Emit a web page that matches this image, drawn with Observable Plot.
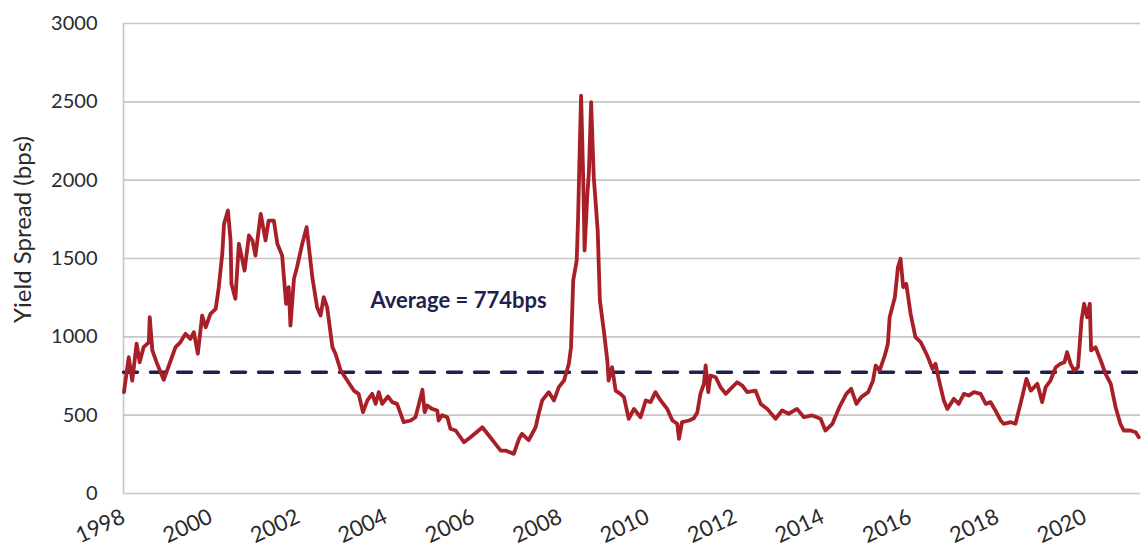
<!DOCTYPE html>
<html>
<head>
<meta charset="utf-8">
<script src="https://cdn.jsdelivr.net/npm/d3@7"></script>
<script src="https://cdn.jsdelivr.net/npm/@observablehq/plot@0.6"></script>
<style>
  html, body { margin: 0; padding: 0; background: #fff; }
  #chart { width: 1146px; height: 556px; }
</style>
</head>
<body>
<div id="chart"></div>
<script>
// Decimal years (x) and yield spread in bps (y)
const years = [
  1998.01,1998.12,1998.20,1998.30,1998.37,1998.46,1998.58,1998.60,1998.66,1998.77,1998.92,
  1999.08,1999.19,1999.30,1999.42,1999.53,1999.61,1999.70,1999.80,1999.88,1999.99,
  2000.11,2000.18,2000.26,2000.30,2000.39,2000.45,2000.47,2000.56,2000.64,2000.69,2000.77,2000.87,2000.95,
  2001.02,2001.14,2001.25,2001.32,2001.44,2001.52,2001.63,2001.72,2001.78,2001.82,2001.90,2001.97,
  2002.09,2002.19,2002.32,2002.43,2002.51,2002.58,2002.66,2002.78,2002.85,2002.97,
  2003.12,2003.27,2003.38,2003.48,2003.58,2003.69,2003.77,2003.84,2003.92,
  2004.05,2004.15,2004.26,2004.41,2004.57,2004.68,2004.76,2004.84,2004.89,2004.95,
  2005.06,2005.18,2005.21,2005.29,2005.41,2005.48,2005.60,2005.79,2005.94,
  2006.05,2006.21,2006.36,2006.51,2006.63,2006.74,2006.93,
  2007.05,2007.12,2007.27,2007.43,2007.50,2007.58,2007.73,2007.85,2007.96,
  2008.08,2008.19,2008.24,2008.29,2008.37,2008.40,2008.44,2008.47,2008.52,2008.55,2008.61,2008.65,2008.70,2008.76,2008.85,2008.90,2008.99,
  2009.07,2009.10,2009.18,2009.26,2009.37,2009.45,2009.56,2009.68,2009.83,2009.95,
  2010.06,2010.17,2010.29,2010.44,2010.56,2010.67,2010.71,2010.78,2010.94,
  2011.05,2011.13,2011.20,2011.28,2011.32,2011.38,2011.43,2011.55,2011.66,2011.78,2011.89,
  2012.04,2012.16,2012.27,2012.46,2012.58,2012.73,2012.92,
  2013.07,2013.22,2013.41,2013.57,2013.76,2013.95,
  2014.06,2014.22,2014.38,2014.54,2014.65,2014.77,2014.88,
  2015.04,2015.15,2015.21,2015.30,2015.42,2015.49,2015.53,2015.65,2015.72,2015.78,2015.84,2015.91,
  2016.01,2016.12,2016.24,2016.39,2016.51,2016.58,2016.66,2016.77,2016.85,
  2017.00,2017.11,2017.23,2017.34,2017.46,2017.61,2017.73,2017.84,2017.95,
  2018.07,2018.14,2018.30,2018.41,2018.57,2018.66,2018.76,2018.91,
  2019.02,2019.10,2019.21,2019.33,2019.44,2019.53,2019.59,2019.67,2019.75,2019.84,2019.92,2019.98,
  2020.05,2020.11,2020.14,2020.24,2020.36,2020.47,2020.59,2020.70,2020.81,2020.89,
  2021.04,2021.16,2021.23
];
const spreads = [
  647,870,720,957,838,934,965,1125,913,828,726,
  849,934,965,1019,987,1030,892,1136,1061,1147,
  1179,1317,1530,1721,1806,1615,1338,1243,1594,1530,1423,1647,1615,
  1519,1785,1615,1742,1742,1594,1519,1211,1317,1072,1370,1444,
  1594,1700,1381,1189,1136,1253,1189,934,892,785,
  721,657,636,519,594,636,572,647,572,
  619,583,572,455,466,487,572,662,519,562,
  540,530,466,500,487,413,402,327,359,
  385,423,370,317,274,274,253,
  349,381,340,423,509,594,647,594,679,
  721,828,934,1360,1487,1743,2210,2540,1998,1551,1891,2060,2498,2019,1679,1232,1040,
  849,721,806,657,636,615,477,540,487,594,
  583,647,594,540,466,445,349,455,466,
  480,519,636,700,817,647,753,742,679,636,668,
  710,689,647,657,572,540,477,
  530,509,540,487,498,477,
  402,445,551,636,668,572,615,
  647,721,817,785,881,956,1125,1253,1444,1498,1317,1338,
  1147,998,966,881,796,828,721,594,540,
  604,572,636,625,647,636,572,583,530,
  466,445,455,445,625,732,657,700,
  583,679,721,806,828,838,902,828,785,806,1104,1211,
  1125,1211,913,934,849,764,700,551,445,402,
  402,391,359
];
const average = 774;
const avgLabel = "Average = 774bps";
const avgLabelPos = [2003.65, 1232];
const xTicks = [1998, 2000, 2002, 2004, 2006, 2008, 2010, 2012, 2014, 2016, 2018, 2020];
const yTicks = [0, 500, 1000, 1500, 2000, 2500, 3000];
const xDomain = [1998, 2021.27];
const yLabel = "Yield Spread (bps)";

const series = years.map((x, i) => ({x, y: spreads[i]}));
const avgLine = [{x: xDomain[0], y: average}, {x: xDomain[1], y: average}];

const navy = "#1f1f50";
const red = "#a81f28";

const chart = Plot.plot({
  width: 1146,
  height: 556,
  marginTop: 23,
  marginBottom: 63,
  marginLeft: 123,
  marginRight: 6,
  style: {fontFamily: "Lato, 'Noto Sans', sans-serif", fontSize: "20px", color: "#333", background: "#fff"},
  x: {domain: xDomain, type: "linear"},
  y: {domain: [0, 3000]},
  marks: [
    Plot.gridY(yTicks, {stroke: "#c6c6c6", strokeOpacity: 1, strokeWidth: 1.6}),
    Plot.ruleX([xDomain[0]], {stroke: "#c6c6c6", strokeWidth: 1.6}),
    Plot.axisY(yTicks, {tickSize: 0, tickPadding: 26, fontSize: 20, fill: "#2a2a2a",
      tickFormat: d => String(d), label: null}),
    Plot.text([yLabel], {frameAnchor: "left", textAnchor: "middle", rotate: -90, dx: -100, dy: -29, fontSize: 24, fill: "#2a2a2a"}),
    Plot.axisX(xTicks, {tickSize: 0, tickPadding: 22, tickRotate: -25, fontSize: 22, fill: "#2a2a2a",
      tickFormat: d => String(d), label: null}),
    Plot.line(avgLine, {x: "x", y: "y", stroke: navy, strokeWidth: 3.4, strokeDasharray: "14,13"}),
    Plot.line(series, {x: "x", y: "y", stroke: red, strokeWidth: 3.8, strokeLinejoin: "round", strokeLinecap: "round"}),
    Plot.text([{x: avgLabelPos[0], y: avgLabelPos[1], t: avgLabel}], {x: "x", y: "y", text: "t", textAnchor: "start",
      fill: navy, fontWeight: "bold", fontSize: 22})
  ]
});
document.getElementById("chart").appendChild(chart);
</script>
</body>
</html>
